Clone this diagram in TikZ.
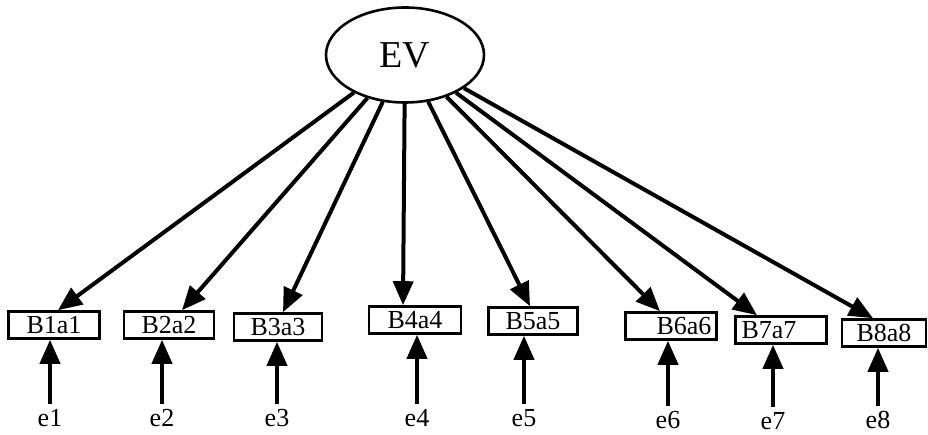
\documentclass[tikz,border=0pt]{standalone}
\usepackage{fontspec}
\setmainfont{Liberation Serif}
\usetikzlibrary{arrows.meta,shapes.geometric}
\begin{document}
\begin{tikzpicture}[x=1pt,y=-1pt,
 obs/.style={draw,line width=2.6pt,minimum height=27pt,inner sep=0pt,font=\fontsize{26}{26}\selectfont},
 err/.style={inner sep=0pt,font=\fontsize{26}{26}\selectfont},
 lat/.style={draw,ellipse,line width=2.6pt,minimum width=158pt,minimum height=95pt,inner sep=0pt,font=\fontsize{38}{38}\selectfont},
 lnk/.style={line width=4pt,-{Triangle[length=24pt,width=20pt]}}]
\useasboundingbox (0,0) rectangle (928,435);
\node[lat] (EV) at (405,55) {EV};
\node[obs,minimum width=91pt] (B1) at (54,325) {B1a1};
\node[obs,minimum width=90pt] (B2) at (169,325) {B2a2};
\node[obs,minimum width=88pt] (B3) at (278,327) {B3a3};
\node[obs,minimum width=92pt] (B4) at (415,320) {B4a4};
\node[obs,minimum width=89pt] (B5) at (533,321) {B5a5};
\node[obs,minimum width=91pt] (B6) at (671,326) {\hspace*{26pt}B6a6};
\node[obs,minimum width=91pt] (B7) at (781,330) {B7a7\hspace*{24pt}};
\node[obs,minimum width=84pt] (B8) at (884,333) {B8a8};
\node[err] (e1) at (50,418) {e1};
\node[err] (e2) at (162,418) {e2};
\node[err] (e3) at (277,418) {e3};
\node[err] (e4) at (417,418) {e4};
\node[err] (e5) at (524,418) {e5};
\node[err] (e6) at (668,420) {e6};
\node[err] (e7) at (773,421) {e7};
\node[err] (e8) at (878,420) {e8};
\draw[lnk] (EV) -- ([xshift=4pt]B1.north);
\draw[lnk] (EV) -- ([xshift=13pt]B2.north);
\draw[lnk] (EV) -- ([xshift=5pt]B3.north);
\draw[lnk] (EV) -- ([xshift=-12pt]B4.north);
\draw[lnk] (EV) -- ([xshift=-3pt]B5.north);
\draw[lnk] (EV) -- ([xshift=-11pt]B6.north);
\draw[lnk] (EV) -- ([xshift=-24pt]B7.north);
\draw[lnk] (EV) -- ([xshift=-11pt]B8.north);
\foreach \i in {1,...,8}{
  \draw[lnk] ([yshift=5pt]e\i.north) -- (e\i.north |- B\i.south);
}
\end{tikzpicture}
\end{document}
